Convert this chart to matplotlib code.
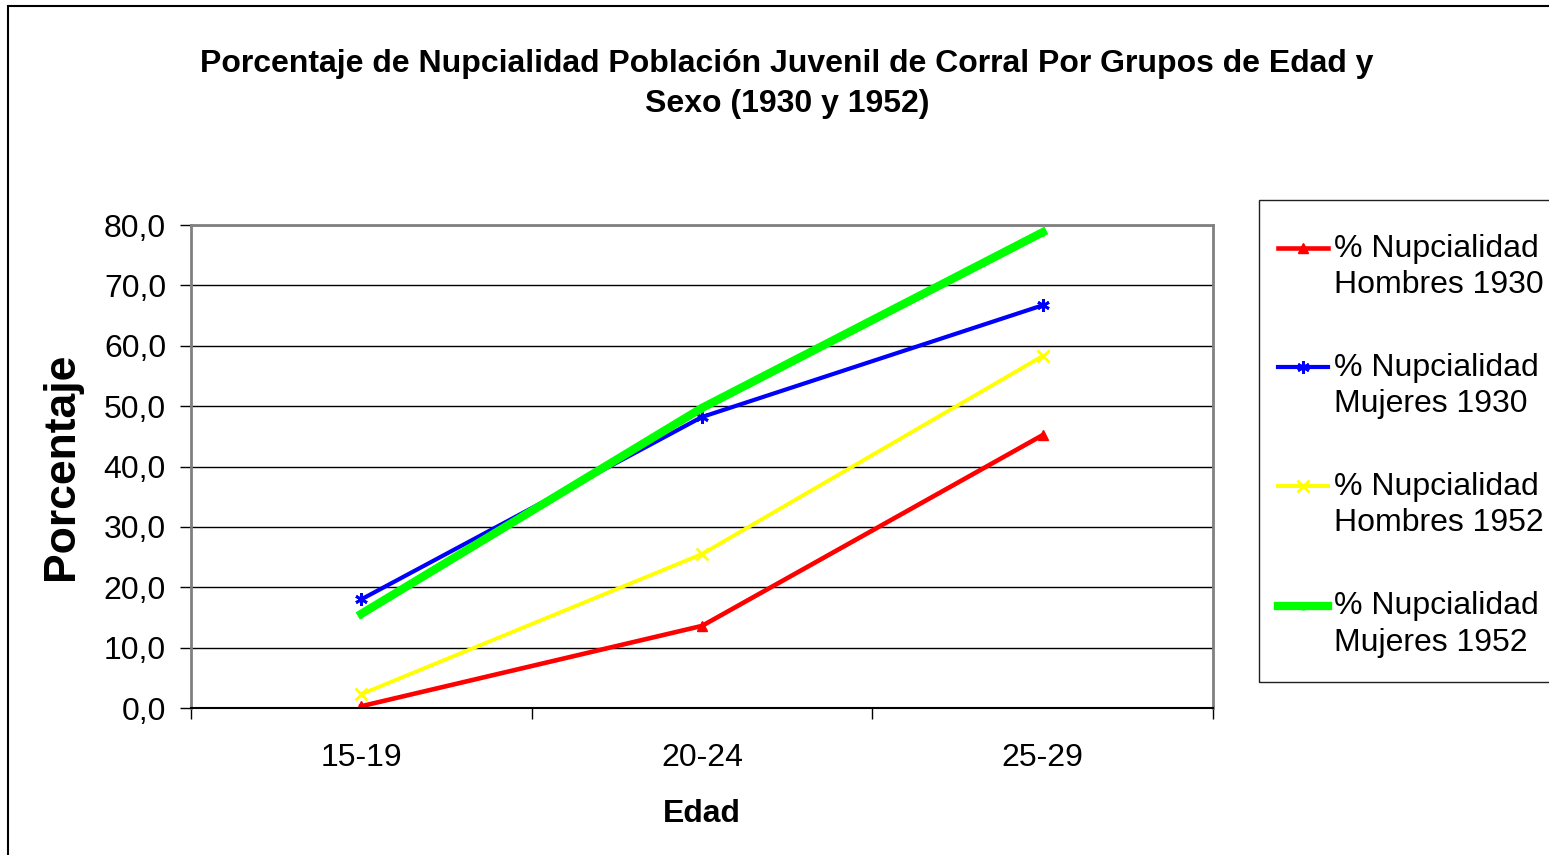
import numpy as np
import matplotlib.pyplot as plt
from matplotlib.patches import Rectangle
from matplotlib.ticker import FuncFormatter
from matplotlib.legend_handler import HandlerLine2D

plt.rcParams["font.family"] = ["Liberation Sans", "DejaVu Sans"]

# Datos
grupos = ["15-19", "20-24", "25-29"]
hombres_1930 = [0.3, 13.6, 45.2]
mujeres_1930 = [18.0, 48.2, 66.7]
hombres_1952 = [2.3, 25.5, 58.3]
mujeres_1952 = [15.6, 49.7, 78.8]


# la linea de la leyenda va a la altura del primer renglon del texto
class HandlerArriba(HandlerLine2D):
    def create_artists(self, legend, orig_handle, xdescent, ydescent, width, height, fontsize, trans):
        artists = super().create_artists(legend, orig_handle, xdescent, ydescent,
                                         width, height, fontsize, trans)
        for a in artists:
            a.set_ydata(np.asarray(a.get_ydata()) + 0.6 * fontsize)
        return artists


fig = plt.figure(figsize=(15.49, 8.55), dpi=100)
ax = fig.add_axes([191 / 1549, 1 - 708 / 855, (1213 - 191) / 1549, (708 - 225) / 855])

x = range(len(grupos))
ax.plot(x, hombres_1930, color="#FF0000", linewidth=3.3, marker="^", markersize=7,
        label="% Nupcialidad\nHombres 1930")
ax.plot(x, mujeres_1930, color="#0000FF", linewidth=3, marker=(6, 2, 0), markersize=9,
        markeredgewidth=2, label="% Nupcialidad\nMujeres 1930")
ax.plot(x, hombres_1952, color="#FFFF00", linewidth=2.8, marker="x", markersize=8,
        markeredgewidth=2, label="% Nupcialidad\nHombres 1952")
ax.plot(x, mujeres_1952, color="#00FF00", linewidth=6, marker="|", markersize=6,
        markeredgewidth=2, label="% Nupcialidad\nMujeres 1952")

ax.set_xlim(-0.5, 2.5)
ax.set_ylim(0, 80)
ax.set_yticks(range(0, 81, 10))
ax.yaxis.set_major_formatter(FuncFormatter(lambda v, p: f"{v:.1f}".replace(".", ",")))
ax.set_xticks(list(x))
ax.set_xticklabels(grupos)
ax.set_xticks([-0.5, 0.5, 1.5, 2.5], minor=True)
ax.tick_params(axis="x", which="major", length=0, labelsize=23, pad=25)
ax.tick_params(axis="x", which="minor", length=8, width=1, direction="out")
ax.tick_params(axis="y", labelsize=23, length=8, width=1, direction="out", pad=10)

ax.grid(axis="y", color="black", linewidth=1)
ax.set_axisbelow(True)
for s in ["top", "right", "left"]:
    ax.spines[s].set_color("#808080")
    ax.spines[s].set_linewidth(2)
ax.spines["bottom"].set_color("black")
ax.spines["bottom"].set_linewidth(1.5)

ax.set_xlabel("Edad", fontsize=23, fontweight="bold", labelpad=19)
ax.set_ylabel("Porcentaje", fontsize=32, fontweight="bold", labelpad=16)

fig.text(787 / 1549, 1 - 84 / 855,
         "Porcentaje de Nupcialidad Población Juvenil de Corral Por Grupos de Edad y\nSexo (1930 y 1952)",
         ha="center", va="center", fontsize=23, fontweight="bold", linespacing=1.47)

leg = fig.legend(loc="upper left", bbox_to_anchor=(1257 / 1549, 1 - 213 / 855),
                 fontsize=23, frameon=False, handlelength=1.56,
                 handletextpad=0.2, labelspacing=1.66, borderpad=0.65, borderaxespad=0,
                 handler_map={plt.Line2D: HandlerArriba()})
for t in leg.get_texts():
    t.set_linespacing(1.27)

# Marco de la leyenda
fig.patches.append(Rectangle((1259 / 1549, 1 - 682 / 855), 0.5, (682 - 200) / 855,
                             transform=fig.transFigure, fill=False, edgecolor="#202020",
                             linewidth=1))

# Marco exterior
fig.patches.append(Rectangle((8 / 1549, -0.1), 1.2, 1.1 - 6 / 855, transform=fig.transFigure,
                             fill=False, edgecolor="black", linewidth=1.5))

fig.savefig("out.png", dpi=100)
